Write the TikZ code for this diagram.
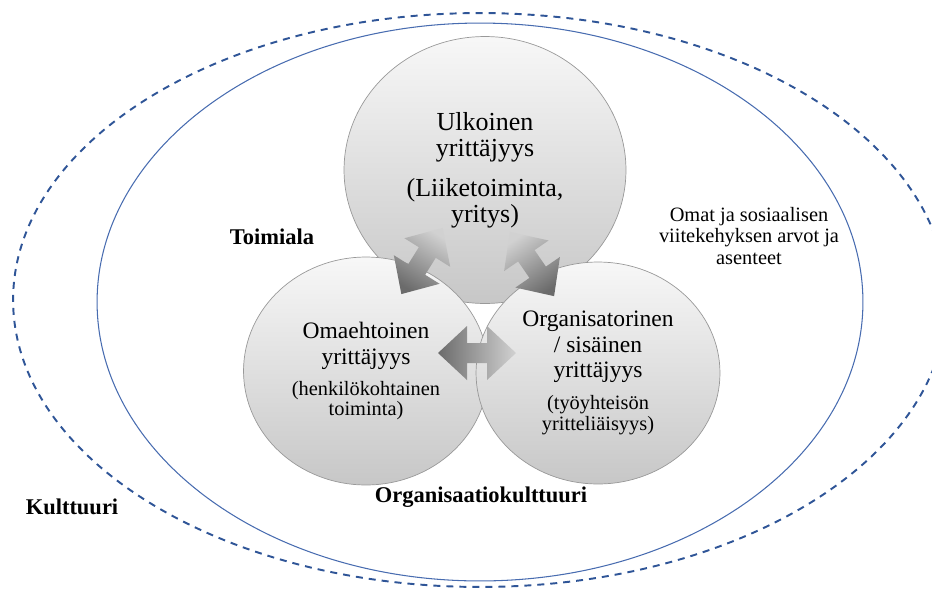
\documentclass[tikz,border=0pt]{standalone}
\usepackage{fontspec}
\setmainfont{Liberation Serif}
\usetikzlibrary{shapes.geometric}
\definecolor{dashblue}{RGB}{47,85,151}
\definecolor{lineblue}{RGB}{72,108,176}
\newcommand{\subtxt}{\fontsize{11.6}{12}\selectfont}
\newcommand{\linkpath}{(-39,0) -- (-10,27) -- (-10,10) -- (10,10) -- (10,27) -- (39,0) -- (10,-27) -- (10,-10) -- (-10,-10) -- (-10,-27) -- cycle}

\begin{document}
\begin{tikzpicture}[x=0.02cm, y=-0.02cm,
        bubble/.style={ellipse, draw=black!40, line width=0.4pt, top color=black!3, bottom color=black!22, inner sep=0pt, align=center},
        link/.style={top color=black!18, bottom color=black!58},
        tag/.style={font=\fontsize{12.8}{14}\selectfont\bfseries}
    ]
    \useasboundingbox (0,0) rectangle (932,589);
    \clip (0,0) rectangle (932,589);
    \draw[dashblue, line width=1.1pt, dash pattern=on 4pt off 3.4pt] (480,300) ellipse [x radius=9.34cm, y radius=5.74cm];
    \draw[lineblue, line width=0.6pt] (480,302) ellipse [x radius=7.66cm, y radius=5.58cm];

    \node[bubble, minimum width=5.64cm, minimum height=5.34cm, font=\fontsize{14.8}{14.8}\selectfont] (ulk) at (485,170) {Ulkoinen\\yrittäjyys\\[8pt](Liiketoiminta,\\yritys)};
    \node[bubble, minimum width=4.9cm, minimum height=4.56cm, font=\fontsize{13.4}{14.8}\selectfont] (oma) at (366,371) {Omaehtoinen\\yrittäjyys\\[3pt]{\subtxt(henkilökohtainen}\\[-3.4pt]{\subtxt toiminta)}};
    \node[bubble, minimum width=4.88cm, minimum height=4.44cm, font=\fontsize{13.4}{14.5}\selectfont] (org) at (598,373) {Organisatorinen\\/ sisäinen\\yrittäjyys\\[3.5pt]{\subtxt(työyhteisön}\\[-2.6pt]{\subtxt yritteliäisyys)}};

    \shade[link, shading angle=-32, shift={(422,261)}, rotate=58] \linkpath;
    \shade[link, shading angle=34.5, shift={(532,264)}, rotate=-55.5] \linkpath;
    \shade[link, shading angle=-90, shift={(477,353)}] \linkpath;

    \node[tag] (toimiala) at (272,237) {Toimiala};
    \node[tag] (orgkult) at (481,497) {Organisaatiokulttuuri};
    \node[tag] (kulttuuri) at (72,507) {Kulttuuri};
    \node[align=center, font=\fontsize{11.6}{12.5}\selectfont] (arvot) at (749,236) {Omat ja sosiaalisen\\viitekehyksen arvot ja\\asenteet};
\end{tikzpicture}
\end{document}
